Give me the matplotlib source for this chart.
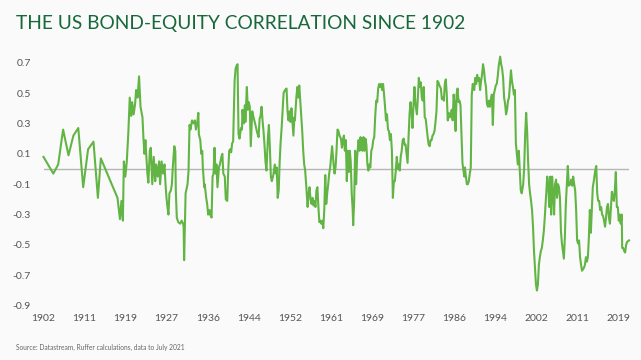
import matplotlib
matplotlib.use("Agg")
import matplotlib.pyplot as plt
import numpy as np

title = "THE US BOND-EQUITY CORRELATION SINCE 1902"
source = "Source: Datastream, Ruffer calculations, data to July 2021"

x_tick_labels = ["1902", "1911", "1919", "1927", "1936", "1944", "1952", "1961",
                 "1969", "1977", "1986", "1994", "2002", "2011", "2019"]
y_ticks = [0.7, 0.5, 0.3, 0.1, -0.1, -0.3, -0.5, -0.7, -0.9]

years = [
    1902.0, 1904.0, 1905.0, 1906.0, 1907.1, 1908.1, 1909.1, 1910.1, 1911.1, 1912.2,
    1913.1, 1913.7, 1917.1, 1917.6, 1917.9, 1918.2, 1918.4, 1918.7, 1919.0, 1919.3,
    1919.6, 1919.9, 1920.1, 1920.4, 1920.7, 1920.9, 1921.2, 1921.5, 1921.8, 1922.2,
    1922.4, 1922.6, 1922.8, 1923.0, 1923.2, 1923.4, 1923.7, 1923.9, 1924.2, 1924.5,
    1924.8, 1925.0, 1925.3, 1925.6, 1925.8, 1926.1, 1926.4, 1926.7, 1926.9, 1927.1,
    1927.3, 1927.5, 1927.7, 1928.0, 1928.2, 1928.4, 1928.7, 1928.9, 1929.0, 1929.2,
    1929.5, 1929.9, 1930.2, 1930.5, 1930.6, 1930.7, 1930.9, 1931.0, 1931.4, 1931.6,
    1931.8, 1932.0, 1932.3, 1932.6, 1932.9, 1933.1, 1933.4, 1933.6, 1933.7, 1934.0,
    1934.2, 1934.4, 1934.5, 1934.8, 1934.9, 1935.2, 1935.4, 1935.6, 1935.9, 1936.0,
    1936.3, 1936.5, 1936.7, 1936.9, 1937.1, 1937.3, 1937.5, 1937.8, 1938.0, 1938.3,
    1938.5, 1938.7, 1939.0, 1939.2, 1939.5, 1939.7, 1939.9, 1940.1, 1940.3, 1940.5,
    1940.7, 1941.0, 1941.2, 1941.4, 1941.6, 1941.8, 1942.0, 1942.3, 1942.5, 1942.6,
    1942.9, 1943.1, 1943.2, 1943.3, 1943.5, 1943.7, 1943.9, 1944.1, 1944.3, 1944.6,
    1944.8, 1945.1, 1945.4, 1945.6, 1945.9, 1946.1, 1946.3, 1946.5, 1946.7, 1946.9,
    1947.1, 1947.3, 1947.5, 1947.8, 1948.0, 1948.2, 1948.4, 1948.6, 1948.9, 1949.2,
    1949.4, 1949.6, 1949.8, 1950.0, 1950.2, 1950.4, 1950.6, 1950.8, 1951.0, 1951.3,
    1951.6, 1951.8, 1952.0, 1952.2, 1952.4, 1952.6, 1952.8, 1953.0, 1953.2, 1953.3,
    1953.6, 1953.8, 1954.0, 1954.2, 1954.4, 1954.6, 1954.8, 1955.0, 1955.2, 1955.4,
    1955.6, 1955.9, 1956.1, 1956.3, 1956.5, 1956.7, 1956.9, 1957.1, 1957.3, 1957.5,
    1957.7, 1957.9, 1958.1, 1958.3, 1958.5, 1958.7, 1958.9, 1959.1, 1959.3, 1959.5,
    1959.7, 1959.9, 1960.1, 1960.3, 1960.5, 1960.7, 1960.9, 1961.2, 1961.4, 1961.6,
    1961.8, 1962.0, 1962.2, 1962.4, 1962.7, 1962.9, 1963.1, 1963.3, 1963.5, 1963.7,
    1963.9, 1964.1, 1964.3, 1964.5, 1964.7, 1964.9, 1965.1, 1965.2, 1965.4, 1965.6,
    1965.8, 1966.0, 1966.3, 1966.5, 1966.7, 1966.9, 1967.1, 1967.3, 1967.5, 1967.7,
    1967.9, 1968.1, 1968.3, 1968.5, 1968.7, 1968.9, 1969.1, 1969.3, 1969.5, 1969.7,
    1969.9, 1970.1, 1970.3, 1970.5, 1970.7, 1970.9, 1971.1, 1971.3, 1971.5, 1971.7,
    1971.9, 1972.1, 1972.3, 1972.5, 1972.7, 1972.9, 1973.1, 1973.3, 1973.5, 1973.7,
    1973.9, 1974.1, 1974.3, 1974.5, 1974.7, 1974.9, 1975.1, 1975.3, 1975.5, 1975.7,
    1975.9, 1976.1, 1976.3, 1976.5, 1976.7, 1976.9, 1977.1, 1977.3, 1977.5, 1977.7,
    1977.9, 1978.2, 1978.4, 1978.6, 1978.8, 1979.0, 1979.2, 1979.4, 1979.6, 1979.8,
    1980.0, 1980.2, 1980.4, 1980.6, 1980.8, 1981.0, 1981.2, 1981.4, 1981.6, 1981.8,
    1982.0, 1982.2, 1982.4, 1982.6, 1982.8, 1983.1, 1983.3, 1983.5, 1983.7, 1983.9,
    1984.1, 1984.3, 1984.5, 1984.7, 1984.9, 1985.1, 1985.3, 1985.5, 1985.7, 1985.9,
    1986.1, 1986.3, 1986.5, 1986.7, 1986.9, 1987.1, 1987.3, 1987.5, 1987.7, 1987.9,
    1988.0, 1988.2, 1988.4, 1988.6, 1988.8, 1989.0, 1989.2, 1989.4, 1989.6, 1989.9,
    1990.1, 1990.3, 1990.5, 1990.7, 1990.9, 1991.1, 1991.3, 1991.5, 1991.7, 1991.9,
    1992.1, 1992.3, 1992.5, 1992.7, 1992.9, 1993.1, 1993.3, 1993.5, 1993.7, 1993.9,
    1994.1, 1994.3, 1994.5, 1994.7, 1994.9, 1995.2, 1995.4, 1995.6, 1995.8, 1996.0,
    1996.2, 1996.4, 1996.6, 1996.8, 1997.0, 1997.2, 1997.4, 1997.6, 1997.8, 1998.0,
    1998.2, 1998.4, 1998.6, 1998.8, 1999.0, 1999.2, 1999.4, 1999.6, 1999.9, 2000.1,
    2000.3, 2000.5, 2000.7, 2000.9, 2001.1, 2001.3, 2001.5, 2001.7, 2001.9, 2002.1,
    2002.3, 2002.5, 2002.7, 2002.9, 2003.1, 2003.3, 2003.5, 2003.7, 2003.9, 2004.1,
    2004.3, 2004.6, 2004.8, 2005.0, 2005.2, 2005.4, 2005.6, 2005.8, 2006.0, 2006.2,
    2006.4, 2006.6, 2006.8, 2007.0, 2007.2, 2007.4, 2007.6, 2007.8, 2008.0, 2008.2,
    2008.4, 2008.6, 2008.8, 2009.0, 2009.2, 2009.5, 2009.7, 2009.9, 2010.1, 2010.3,
    2010.5, 2010.7, 2010.9, 2011.1, 2011.3, 2011.5, 2011.7, 2011.9, 2012.1, 2012.3,
    2012.5, 2012.7, 2012.9, 2013.1, 2013.3, 2013.5, 2013.7, 2013.9, 2014.1, 2014.3,
    2014.6, 2014.8, 2015.0, 2015.2, 2015.4, 2015.6, 2015.8, 2016.0, 2016.2, 2016.4,
    2016.6, 2016.8, 2017.0, 2017.2, 2017.4, 2017.6, 2017.8, 2018.0, 2018.2, 2018.4,
    2018.6, 2018.8, 2019.0, 2019.2, 2019.4, 2019.6, 2019.8, 2020.0, 2020.1, 2020.3,
    2020.5, 2020.7, 2020.9, 2021.1, 2021.5,
]

corr = [
    0.08, -0.03, 0.03, 0.26, 0.09, 0.22, 0.27, -0.12, 0.13, 0.18,
    -0.19, 0.07, -0.19, -0.33, -0.21, -0.34, 0.05, -0.05, 0.05, 0.23,
    0.47, 0.35, 0.44, 0.36, 0.43, 0.52, 0.47, 0.61, 0.41, 0.34,
    0.20, 0.10, 0.19, 0.08, -0.03, -0.09, 0.12, 0.14, -0.10, 0.08,
    -0.08, 0.03, -0.05, 0.05, -0.10, 0.05, -0.03, 0.03, -0.10, -0.19,
    -0.25, -0.30, -0.16, -0.14, -0.10, 0.02, 0.15, 0.12, -0.14, -0.32,
    -0.35, -0.36, -0.34, -0.36, -0.38, -0.60, -0.32, -0.16, -0.10, -0.01,
    0.29, 0.26, 0.32, 0.30, 0.32, 0.26, 0.31, 0.37, 0.23, 0.19,
    0.10, 0.12, 0.02, -0.12, -0.10, -0.19, -0.23, -0.30, -0.27, -0.30,
    -0.32, -0.05, -0.03, 0.14, -0.03, 0.03, -0.12, 0.01, 0.03, 0.08,
    0.10, -0.03, -0.05, -0.20, -0.21, -0.01, 0.12, 0.13, 0.11, 0.17,
    0.18, 0.58, 0.66, 0.68, 0.69, 0.23, 0.20, 0.27, 0.26, 0.39,
    0.30, 0.42, 0.31, 0.39, 0.54, 0.39, 0.44, 0.41, 0.15, 0.38,
    0.35, 0.31, 0.27, 0.24, 0.21, 0.33, 0.35, 0.41, 0.32, 0.25,
    0.16, 0.05, -0.01, 0.21, 0.29, 0.14, -0.05, -0.08, -0.04, 0.03,
    -0.03, 0.01, -0.19, -0.14, 0.05, 0.18, 0.27, 0.38, 0.50, 0.52,
    0.53, 0.38, 0.32, 0.38, 0.31, 0.40, 0.31, 0.22, 0.34, 0.32,
    0.47, 0.54, 0.47, 0.55, 0.45, 0.35, 0.25, 0.12, 0.03, -0.01,
    -0.10, -0.25, -0.16, -0.12, -0.20, -0.23, -0.19, -0.24, -0.21, -0.25,
    -0.14, -0.12, -0.25, -0.35, -0.34, -0.36, -0.34, -0.39, -0.27, -0.04,
    -0.23, -0.16, -0.10, -0.03, 0.01, 0.08, 0.15, 0.03, -0.03, 0.01,
    0.12, 0.26, 0.25, 0.22, 0.20, 0.14, 0.19, 0.22, 0.12, 0.19,
    -0.08, 0.12, -0.02, 0.12, 0.05, -0.16, -0.27, -0.37, -0.21, 0.12,
    -0.10, 0.08, 0.19, 0.12, 0.21, 0.14, 0.12, 0.21, 0.12, 0.20,
    0.16, 0.03, -0.01, 0.03, 0.01, 0.12, 0.14, 0.19, 0.21, 0.35,
    0.45, 0.44, 0.53, 0.56, 0.54, 0.56, 0.52, 0.56, 0.49, 0.41,
    0.32, 0.36, 0.26, 0.25, 0.19, 0.23, 0.12, -0.19, -0.08, -0.08,
    -0.01, 0.08, 0.00, 0.03, -0.01, 0.08, 0.12, 0.19, 0.20, 0.16,
    0.16, 0.10, 0.04, 0.21, 0.36, 0.44, 0.38, 0.27, 0.42, 0.54,
    0.43, 0.36, 0.47, 0.60, 0.54, 0.57, 0.47, 0.45, 0.54, 0.34,
    0.33, 0.27, 0.21, 0.16, 0.15, 0.19, 0.19, 0.22, 0.23, 0.25,
    0.31, 0.38, 0.58, 0.57, 0.55, 0.53, 0.46, 0.47, 0.45, 0.56,
    0.59, 0.49, 0.32, 0.37, 0.34, 0.35, 0.39, 0.32, 0.49, 0.42,
    0.25, 0.49, 0.53, 0.44, 0.45, 0.42, 0.23, 0.04, -0.01, -0.05,
    0.01, -0.05, -0.10, -0.10, -0.08, -0.03, 0.01, 0.49, 0.56, 0.52,
    0.60, 0.56, 0.62, 0.58, 0.60, 0.52, 0.58, 0.62, 0.69, 0.65,
    0.58, 0.54, 0.43, 0.41, 0.45, 0.41, 0.46, 0.49, 0.29, 0.49,
    0.52, 0.55, 0.56, 0.61, 0.68, 0.74, 0.69, 0.66, 0.60, 0.47,
    0.43, 0.36, 0.39, 0.45, 0.47, 0.56, 0.65, 0.58, 0.54, 0.49,
    0.52, 0.17, 0.10, 0.03, 0.12, -0.01, -0.14, -0.16, -0.10, 0.01,
    0.23, 0.37, 0.25, 0.05, -0.10, -0.16, -0.21, -0.27, -0.38, -0.54,
    -0.65, -0.76, -0.80, -0.76, -0.63, -0.58, -0.54, -0.52, -0.47, -0.41,
    -0.32, -0.16, -0.05, -0.10, -0.25, -0.05, -0.30, -0.05, -0.16, -0.30,
    -0.10, -0.07, -0.19, -0.10, -0.12, -0.19, -0.41, -0.49, -0.54, -0.59,
    -0.45, -0.23, -0.10, 0.02, -0.11, -0.10, -0.07, -0.11, -0.05, -0.10,
    -0.14, -0.27, -0.47, -0.49, -0.47, -0.58, -0.63, -0.67, -0.66, -0.65,
    -0.63, -0.58, -0.61, -0.58, -0.45, -0.27, -0.42, -0.27, -0.12, -0.08,
    -0.01, 0.02, -0.16, -0.21, -0.21, -0.27, -0.25, -0.30, -0.31, -0.34,
    -0.38, -0.32, -0.25, -0.23, -0.32, -0.36, -0.25, -0.15, -0.19, -0.21,
    -0.14, -0.02, -0.25, -0.25, -0.34, -0.30, -0.36, -0.30, -0.52, -0.52,
    -0.54, -0.55, -0.50, -0.48, -0.47,
]

W, H = 641, 360
fig = plt.figure(figsize=(W / 100, H / 100), dpi=100, facecolor="#fafafa")
plt.rcParams["font.family"] = ["Lato", "DejaVu Sans"]

left, right = 43.5, 629.3
top, bottom = 62.7, 305.7
ax = fig.add_axes([left / W, 1 - bottom / H, (right - left) / W, (bottom - top) / H])
ax.set_facecolor("#fafafa")

ax.axhline(0, color="#b5b5b5", lw=1.0, zorder=1)
ax.plot(years, corr, color="#62b545", lw=1.5, zorder=2, solid_joinstyle="round",
        clip_on=False)

ax.set_xlim(1902, 2021.55)
ax.set_ylim(-0.9, 0.7)
ax.set_yticks(y_ticks)
ax.set_yticklabels([f"{v:.1f}" for v in y_ticks])
ax.set_xticks(np.linspace(1902, 2019.3, len(x_tick_labels)))
ax.set_xticklabels(x_tick_labels)
ax.tick_params(axis="both", length=0, labelsize=7.5, colors="#555555")
ax.tick_params(axis="y", pad=9)
ax.tick_params(axis="x", pad=6)
for s in ax.spines.values():
    s.set_visible(False)

fig.text(16 / W, 1 - 24 / H, title, fontsize=13.8, color="#17683a",
         ha="left", va="center")
fig.text(16 / W, 1 - 347 / H, source, fontsize=4.8, color="#666666",
         ha="left", va="center")

fig.savefig("out.png", dpi=100, facecolor=fig.get_facecolor())
